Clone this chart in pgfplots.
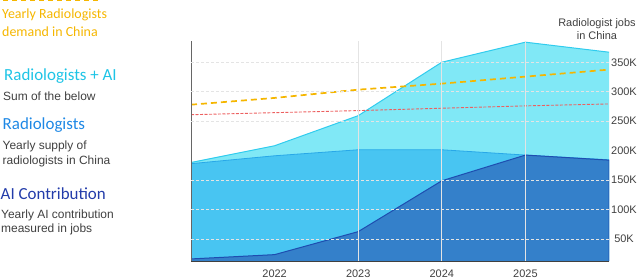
\documentclass[border=0pt]{standalone}
\usepackage{pgfplots}
\pgfplotsset{compat=1.18}
\usepackage{fontspec}
\setmainfont{Liberation Sans}
\newfontfamily\headfont{Carlito}
\definecolor{demandc}{RGB}{245,182,0}
\definecolor{redc}{RGB}{236,96,96}
\definecolor{cyanhead}{RGB}{30,196,230}
\definecolor{radhead}{RGB}{30,136,229}
\definecolor{aihead}{RGB}{35,60,170}
\definecolor{bodyc}{RGB}{64,64,64}
\definecolor{totfill}{RGB}{128,232,246}
\definecolor{totedge}{RGB}{48,204,238}
\definecolor{supfill}{RGB}{72,197,242}
\definecolor{supedge}{RGB}{40,168,232}
\definecolor{aifill}{RGB}{52,128,202}
\definecolor{aiedge}{RGB}{30,77,176}
\definecolor{gridc}{RGB}{228,228,228}
\begin{document}
\begin{tikzpicture}[x=1bp,y=1bp]
\path[use as bounding box] (0,0) rectangle (640,279);
% legend texts
\draw[demandc, line width=1.6bp, dash pattern=on 5bp off 4bp] (3,278.6) -- (100,278.6);
\node[anchor=west, inner sep=0, font=\headfont\fontsize{14}{16}\selectfont, text=demandc] at (2,279-14.5) {Yearly Radiologists};
\node[anchor=west, inner sep=0, font=\headfont\fontsize{14}{16}\selectfont, text=demandc] at (2,279-31.5) {demand in China};
\node[anchor=west, inner sep=0, font=\headfont\fontsize{17}{19}\selectfont, text=cyanhead] at (4,279-76) {Radiologists + AI};
\node[anchor=west, inner sep=0, font=\fontsize{12}{14}\selectfont, text=bodyc] at (3,279-96) {Sum of the below};
\node[anchor=west, inner sep=0, font=\headfont\fontsize{17}{19}\selectfont, text=radhead] at (2.5,279-125) {Radiologists};
\node[anchor=west, inner sep=0, font=\fontsize{12}{14}\selectfont, text=bodyc] at (2.5,279-146) {Yearly supply of};
\node[anchor=west, inner sep=0, font=\fontsize{12}{14}\selectfont, text=bodyc] at (2.5,279-161) {radiologists in China};
\node[anchor=west, inner sep=0, font=\headfont\fontsize{17}{19}\selectfont, text=aihead] at (0.5,279-194) {AI Contribution};
\node[anchor=west, inner sep=0, font=\fontsize{12}{14}\selectfont, text=bodyc] at (1,279-215) {Yearly AI contribution};
\node[anchor=west, inner sep=0, font=\fontsize{12}{14}\selectfont, text=bodyc] at (1,279-229.5) {measured in jobs};
% title on the right
\node[align=center, inner sep=0, font=\fontsize{11}{13}\selectfont, text=bodyc] at (597,279-29.5) {Radiologist jobs\\in China};
\begin{axis}[
  at={(191bp,18bp)}, anchor=south west,
  scale only axis, width=418bp, height=220bp,
  xmin=2021, xmax=2026, ymin=13, ymax=386,
  axis line style={draw=none},
  major tick length=0pt,
  xtick={2022,2023,2024,2025},
  xticklabels={2022,2023,2024,2025},
  xticklabel style={font=\fontsize{11}{13}\selectfont, text=bodyc, yshift=-5bp},
  ytick={50,100,150,200,250,300,350},
  yticklabels={50K,100K,150K,200K,250K,300K,350K},
  yticklabel pos=right,
  yticklabel style={font=\fontsize{11}{13}\selectfont, text=bodyc, anchor=center, xshift=15bp},
  extra x ticks={2023,2024,2025},
  extra x tick labels={},
  extra x tick style={grid=major, major grid style={gridc, line width=0.9bp, solid}},
  extra y ticks={50,100,150,250,300,350},
  extra y tick labels={},
  extra y tick style={grid=major, major grid style={gridc, line width=0.8bp, dash pattern=on 3bp off 2bp}},
  axis on top,
  clip=true,
]
\addplot[fill=totfill, draw=none] coordinates {(2021,180) (2022,208.4) (2023,259.4) (2024,350) (2025,384) (2026,367)} \closedcycle;
\addplot[totedge, line width=1bp] coordinates {(2021,180) (2022,208.4) (2023,259.4) (2024,350) (2025,384) (2026,367)};
\addplot[fill=supfill, draw=none] coordinates {(2021,178) (2022,191.4) (2023,201.6) (2024,201.6) (2025,192.6) (2026,184.6)} \closedcycle;
\addplot[supedge, line width=0.8bp] coordinates {(2021,178) (2022,191.4) (2023,201.6) (2024,201.6) (2025,192.6) (2026,184.6)};
\addplot[fill=aifill, draw=none] coordinates {(2021,16.5) (2022,23.8) (2023,62.8) (2024,149) (2025,192.6) (2026,184)} \closedcycle;
\addplot[aiedge, line width=1bp] coordinates {(2021,16.5) (2022,23.8) (2023,62.8) (2024,149) (2025,192.6) (2026,184) (2026,13)};
\addplot[redc, line width=0.9bp, dash pattern=on 3bp off 1.5bp] coordinates {(2021,261) (2022,264.5) (2023,268) (2024,272) (2025,276) (2026,279.3)};
\addplot[demandc, line width=1.7bp, dash pattern=on 6bp off 4bp] coordinates {(2021,278) (2022,289.5) (2023,303.5) (2024,313.7) (2025,325.6) (2026,337.5)};
\draw[gray!80!black, line width=0.9bp] (rel axis cs:0,0) -- (rel axis cs:0,1);
\draw[black!75, line width=1bp] (rel axis cs:0,0) -- (rel axis cs:1,0);
\end{axis}
\end{tikzpicture}
\end{document}
